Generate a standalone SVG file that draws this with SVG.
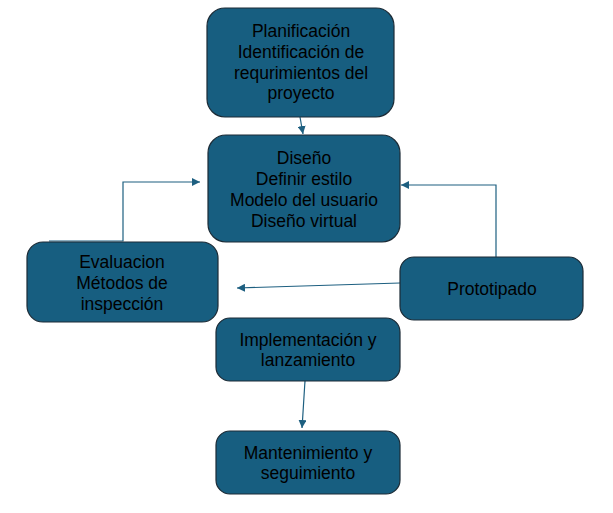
<svg xmlns="http://www.w3.org/2000/svg" width="613" height="513" viewBox="0 0 613 513">
<defs>
<style>
.box{fill:#175e80;stroke:#1c2b36;stroke-width:1.2}
.t{font-family:"Liberation Sans",Arial,sans-serif;font-size:17.5px;fill:#000;text-anchor:middle}
.c{fill:none;stroke:#1d5f80;stroke-width:1.2}
</style>
<marker id="ah" viewBox="0 0 10 10" refX="10" refY="5" markerWidth="8" markerHeight="8" markerUnits="userSpaceOnUse" orient="auto">
<path d="M0 0 L10 5 L0 10 Z" fill="#1d5f80"/>
</marker>
</defs>
<rect width="613" height="513" fill="#fff"/>
<g id="connectors">
<path class="c" d="M300 117 L303 134" marker-end="url(#ah)"/>
<path class="c" d="M49 241 H123 V182 H200" marker-end="url(#ah)"/>
<path class="c" d="M496 257 V185 H401" marker-end="url(#ah)"/>
<path class="c" d="M400 283 L237 288" marker-end="url(#ah)"/>
<path class="c" d="M305 381 L302 428" marker-end="url(#ah)"/>
</g>
<g id="planificacion">
<rect class="box" x="207" y="8" width="187" height="109" rx="18"/>
<text class="t" x="301" y="37">Planificación</text>
<text class="t" x="301" y="58">Identificación de</text>
<text class="t" x="301" y="79">requrimientos del</text>
<text class="t" x="301" y="99">proyecto</text>
</g>
<g id="diseno">
<rect class="box" x="208" y="135" width="192" height="107" rx="18"/>
<text class="t" x="304" y="164">Diseño</text>
<text class="t" x="304" y="185">Definir estilo</text>
<text class="t" x="304" y="206">Modelo del usuario</text>
<text class="t" x="304" y="227">Diseño virtual</text>
</g>
<g id="evaluacion">
<rect class="box" x="27" y="242" width="191" height="80" rx="16"/>
<text class="t" x="122" y="268">Evaluacion</text>
<text class="t" x="122" y="289">Métodos de</text>
<text class="t" x="122" y="310">inspección</text>
</g>
<g id="prototipado">
<rect class="box" x="400" y="257" width="183" height="63" rx="14"/>
<text class="t" x="492" y="295">Prototipado</text>
</g>
<g id="implementacion">
<rect class="box" x="216" y="318" width="184" height="63" rx="14"/>
<text class="t" x="308" y="346">Implementación y</text>
<text class="t" x="308" y="366">lanzamiento</text>
</g>
<g id="mantenimiento">
<rect class="box" x="216" y="431" width="184" height="63" rx="14"/>
<text class="t" x="308" y="459">Mantenimiento y</text>
<text class="t" x="308" y="479">seguimiento</text>
</g>
</svg>
